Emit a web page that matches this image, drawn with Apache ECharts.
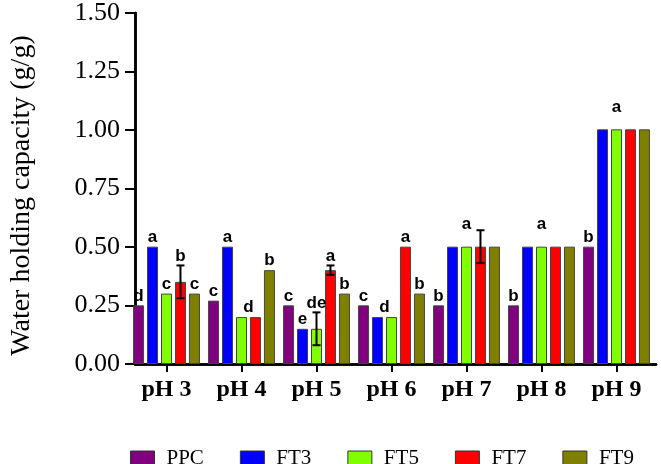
<!DOCTYPE html>
<html>
<head>
<meta charset="utf-8">
<script src="https://cdn.jsdelivr.net/npm/echarts@6/dist/echarts.min.js"></script>
<style>
html, body { margin: 0; padding: 0; background: #fff; }
#chart { width: 661px; height: 464px; }
</style>
</head>
<body>
<div id="chart"></div>
<script>
var categories = ['pH 3', 'pH 4', 'pH 5', 'pH 6', 'pH 7', 'pH 8', 'pH 9'];
var seriesNames = ['PPC', 'FT3', 'FT5', 'FT7', 'FT9'];
var yTicks = [0, 0.25, 0.5, 0.75, 1.0, 1.25, 1.5];

var ppcValues = [0.25, 0.27, 0.25, 0.25, 0.25, 0.25, 0.50];
var ft3Values = [0.50, 0.50, 0.15, 0.20, 0.50, 0.50, 1.00];
var ft5Values = [0.30, 0.20, 0.15, 0.20, 0.50, 0.50, 1.00];
var ft7Values = [0.35, 0.20, 0.40, 0.50, 0.50, 0.50, 1.00];
var ft9Values = [0.30, 0.40, 0.30, 0.30, 0.50, 0.50, 1.00];

// error bars (sd)
var ppcErr = [0, 0, 0, 0, 0, 0, 0];
var ft3Err = [0, 0, 0, 0, 0, 0, 0];
var ft5Err = [0, 0, 0.07, 0, 0, 0, 0];
var ft7Err = [0.07, 0, 0.02, 0, 0.07, 0, 0];
var ft9Err = [0, 0, 0, 0, 0, 0, 0];

// significance letters
var ppcLetters = ['d', 'c', 'c', 'c', 'b', 'b', 'b'];
var ft3Letters = ['a', 'a', 'e', 'd', '', '', ''];
var ft5Letters = ['c', 'd', 'de', '', 'a', 'a', 'a'];
var ft7Letters = ['b', '', 'a', 'a', '', '', ''];
var ft9Letters = ['c', 'b', 'b', 'b', '', '', ''];

// letters shared by a bar and the next one: [series, category]
var sharedWithNext = [[2, 1], [1, 3]];
// letters that stand for the whole FT group
var groupLetterCats = [4, 5, 6];

var allValues = [ppcValues, ft3Values, ft5Values, ft7Values, ft9Values];
var allErr = [ppcErr, ft3Err, ft5Err, ft7Err, ft9Err];
var allLetters = [ppcLetters, ft3Letters, ft5Letters, ft7Letters, ft9Letters];
var colors = ['#800080', '#0000ff', '#80ff00', '#ff0000', '#808000'];

var barWidth = 11;
var barGap = 0.27;
var pitch = barWidth * (1 + barGap);

var gridPos = { top: 12, bottom: 100 };

function isShared(s, i) {
	for (var k = 0; k < sharedWithNext.length; k++) {
		if (sharedWithNext[k][0] == s && sharedWithNext[k][1] == i) return true;
	}
	return false;
}

function makeAnnot(s) {
	return {
		type: 'custom',
		xAxisIndex: 0,
		yAxisIndex: 0,
		silent: true,
		z: 5,
		data: categories.map(function(c, i) {
			return [i, allValues[s][i], allErr[s][i]];
		}),
		renderItem: function(params, api) {
			var i = api.value(0);
			var v = api.value(1);
			var e = api.value(2);
			var base = api.coord([i, v]);
			var x = base[0] + (s - 2) * pitch;
			var children = [];
			if (e > 0) {
				var hi = api.coord([i, v + e])[1];
				var lo = api.coord([i, v - e])[1];
				var ls = { stroke: '#000', lineWidth: 2 };
				children.push({ type: 'line', shape: { x1: x, y1: hi, x2: x, y2: lo }, style: ls });
				children.push({ type: 'line', shape: { x1: x - 4, y1: hi, x2: x + 4, y2: hi }, style: ls });
				children.push({ type: 'line', shape: { x1: x - 4, y1: lo, x2: x + 4, y2: lo }, style: ls });
			}
			var txt = allLetters[s][params.dataIndex];
			if (txt) {
				var ty = api.coord([i, v + e])[1] - 1;
				var tx = x;
				if (isShared(s, params.dataIndex)) tx += pitch / 2;
				if (groupLetterCats.indexOf(params.dataIndex) >= 0 && s > 0) ty -= 13;
				children.push({
					type: 'text',
					x: tx,
					y: ty,
					style: {
						text: txt,
						fill: '#000',
						font: 'bold 17px Liberation Sans',
						textAlign: 'center',
						textVerticalAlign: 'bottom'
					}
				});
			}
			return { type: 'group', children: children };
		}
	};
}

var series = [];
for (var s = 0; s < 5; s++) {
	series.push({
		name: seriesNames[s],
		type: 'bar',
		xAxisIndex: 0,
		yAxisIndex: 0,
		barWidth: barWidth,
		barGap: (barGap * 100) + '%',
		itemStyle: { color: colors[s], borderColor: '#444', borderWidth: 1 },
		data: allValues[s]
	});
}
for (var s = 0; s < 5; s++) {
	series.push(makeAnnot(s));
}

var serif = 'Liberation Serif';

var myChart = echarts.init(document.getElementById('chart'));
var option = {
	animation: false,
	backgroundColor: '#fff',
	legend: {
		data: seriesNames,
		icon: 'rect',
		left: 125,
		top: 443,
		itemWidth: 24,
		itemHeight: 15,
		itemGap: 36,
		itemStyle: { borderColor: '#333', borderWidth: 1 },
		textStyle: {
			fontFamily: serif,
			fontSize: 21,
			color: '#000',
			padding: [0, 0, 0, 7]
		}
	},
	grid: [
		{ left: 129, right: 7, top: gridPos.top, bottom: gridPos.bottom },
		{ left: 126, right: 5, top: gridPos.top, bottom: gridPos.bottom }
	],
	xAxis: [{
		type: 'category',
		gridIndex: 0,
		data: categories,
		axisLine: { show: false },
		axisTick: { show: true, alignWithLabel: true, length: 8, lineStyle: { color: '#000', width: 2 } },
		axisLabel: {
			margin: 14,
			color: '#000',
			fontFamily: serif,
			fontWeight: 'bold',
			fontSize: 24
		}
	}, {
		type: 'value',
		gridIndex: 1,
		position: 'bottom',
		min: 0,
		max: 1,
		axisLine: { show: true, lineStyle: { color: '#000', width: 2.5 } },
		axisTick: { show: false },
		axisLabel: { show: false },
		splitLine: { show: false }
	}, {
		type: 'value',
		gridIndex: 1,
		position: 'top',
		min: 0,
		max: 1,
		axisLine: { show: true, lineStyle: { color: '#000', width: 2.5 } },
		axisTick: { show: false },
		axisLabel: { show: false },
		splitLine: { show: false }
	}],
	yAxis: [{
		type: 'value',
		gridIndex: 0,
		min: 0,
		max: 1.5,
		show: false
	}, {
		type: 'value',
		gridIndex: 1,
		position: 'left',
		min: 0,
		max: 1.5,
		interval: 0.25,
		name: 'Water holding capacity (g/g)',
		nameLocation: 'middle',
		nameGap: 99,
		nameTextStyle: { fontFamily: serif, fontSize: 28, color: '#000', padding: [0, 14, 0, 0] },
		axisLine: { show: true, lineStyle: { color: '#000', width: 2.5 } },
		axisTick: { show: true, length: 10, lineStyle: { color: '#000', width: 2 } },
		axisLabel: {
			margin: 15,
			color: '#000',
			fontFamily: serif,
			fontSize: 26,
			formatter: function(v) {
				return yTicks.indexOf(v) >= 0 ? v.toFixed(2) : '';
			}
		},
		splitLine: { show: false }
	}, {
		type: 'value',
		gridIndex: 1,
		position: 'right',
		min: 0,
		max: 1.5,
		axisLine: { show: true, lineStyle: { color: '#000', width: 2.5 } },
		axisTick: { show: false },
		axisLabel: { show: false },
		splitLine: { show: false }
	}],
	series: series
};
myChart.setOption(option);
</script>
</body>
</html>
